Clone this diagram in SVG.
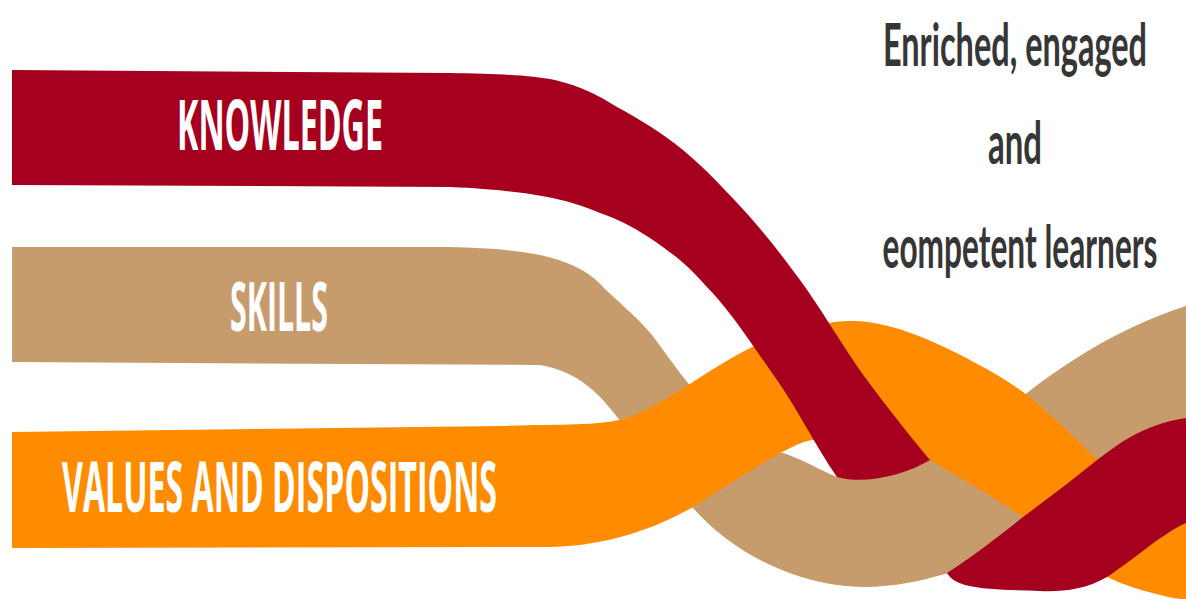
<svg xmlns="http://www.w3.org/2000/svg" width="1186" height="599" viewBox="0 0 1186 599">
  <style>
    .red { fill: #A6001F; }
    .tan { fill: #C69C6D; }
    .orange { fill: #FF8C00; }
    .label { font-family: "Open Sans", "Liberation Sans", sans-serif; font-weight: 700; fill: #FFFFFF; }
    .title { font-family: Lato, "Liberation Sans", sans-serif; font-weight: 700; fill: #363636; text-anchor: middle; font-size: 60px; }
  </style>
  <rect x="0" y="0" width="1186" height="599" fill="#FFFFFF"/>

  <g id="skills">
    <path class="tan" d="M12,247 L450,247 C500,248 540,252 567,263 C585,270 595,278 605,289 C625,308 640,320 652,335 C665,352 675,367 688,383 C715,418 745,443 783,453 C800,458 820,470 837,477 C855,470 900,465 930,450 C960,430 995,410 1027,393 C1050,375 1110,330 1186,306 L1186,470 C1120,500 1020,560 945,574 C910,584 870,592 825,583 C780,574 730,550 693,508 C665,478 640,445 617,417 C600,395 580,372 540,365 L12,362 Z"/>
    <text class="label" x="230" y="331" font-size="68" textLength="98" lengthAdjust="spacingAndGlyphs">SKILLS</text>
  </g>

  <g id="values">
    <path class="orange" d="M12,432 L500,426 C560,424 595,426 623,419 C650,411 680,390 710,371 C750,345 800,322 850,321 C890,320 940,343 983,367 C1010,382 1025,392 1050,415 C1070,433 1085,448 1100,462 C1130,490 1160,510 1186,515 L1186,599 L1180,599 C1160,596 1130,588 1107,577 C1080,560 1050,535 1023,517 C990,495 960,478 930,460 C900,448 850,438 812,440 C790,443 740,478 693,507 C660,526 610,546 550,547 L12,548 Z"/>
    <text class="label" x="62" y="512" font-size="70" textLength="435" lengthAdjust="spacingAndGlyphs">VALUES AND DISPOSITIONS</text>
  </g>

  <g id="knowledge">
    <path class="red" d="M12,70 L450,73 C500,74 530,75 555,80 C580,86 598,95 617,107 C639,119 661,132 683,150 C705,168 730,195 750,217 C769,239 780,253 800,280 C820,307 845,350 867,380 C889,410 919,447 930,460 C905,475 865,485 837,477 C815,445 798,410 777,380 C750,342 730,310 705,285 C685,262 670,252 650,238 C630,225 615,218 600,213 C575,202 540,191 450,187 L12,185 Z"/>
    <path class="red" d="M947,573 C975,555 1000,535 1023,517 C1050,497 1075,478 1097,460 C1115,447 1140,425 1186,418 L1186,523 C1160,535 1140,555 1107,577 C1085,590 1060,592 1040,591 C1010,590 985,590 965,585 C955,582 950,578 947,573 Z"/>
    <text class="label" x="177" y="150" font-size="70" textLength="206" lengthAdjust="spacingAndGlyphs">KNOWLEDGE</text>
  </g>

  <g id="outcome">
    <text class="title" transform="translate(1015,66) scale(0.5,1)" x="0" y="0" textLength="528" lengthAdjust="spacingAndGlyphs">Enriched, engaged</text>
    <text class="title" transform="translate(1015,164) scale(0.5,1)" x="0" y="0" textLength="108" lengthAdjust="spacingAndGlyphs">and</text>
    <text class="title" transform="translate(1020,268) scale(0.5,1)" x="0" y="0" textLength="550" lengthAdjust="spacingAndGlyphs">eompetent learners</text>
  </g>

  <g id="connectors"></g>
</svg>
